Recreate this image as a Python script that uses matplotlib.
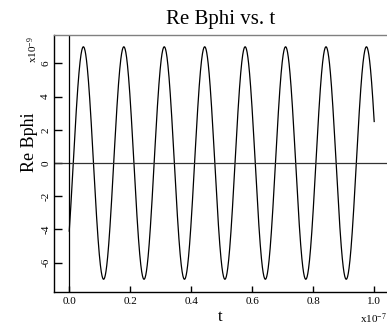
import numpy as np
import matplotlib
matplotlib.use("Agg")
import matplotlib.pyplot as plt

plt.rcParams["font.family"] = ["Liberation Serif", "DejaVu Serif"]
plt.rcParams["mathtext.default"] = "regular"

# Values (t in units of 1e-7 s, Bphi in units of 1e-9)
t_start = 0.0
t_end = 1.0
amplitude = 7.0          # peak height
value_at_start = -4.1    # curve value at t = 0
value_at_end = 2.5       # curve value at t = 1.0 (falling)
n_cycles_full = 7        # full cycles between start and end

xticks = [0.0, 0.2, 0.4, 0.6, 0.8, 1.0]
xtick_labels = ["0.0", "0.2", "0.4", "0.6", "0.8", "1.0"]
yticks = [-6, -4, -2, 0, 2, 4, 6]
ytick_labels = ["-6", "-4", "-2", "0", "2", "4", "6"]

phase0 = np.arcsin(value_at_start / amplitude)
phase1 = np.pi - np.arcsin(value_at_end / amplitude) + 2 * np.pi * n_cycles_full
t = np.linspace(t_start, t_end, 2000)
bphi = amplitude * np.sin(phase0 + (phase1 - phase0) * (t - t_start) / (t_end - t_start))

fig = plt.figure(figsize=(3.87, 3.34), dpi=100)
ax = fig.add_axes([0.1403, 0.1266, 0.8597, 0.7686])

ax.plot(t, bphi, color="black", linewidth=0.9)
ax.axhline(0, color="#333333", linewidth=0.9)
ax.axvline(0, color="black", linewidth=0.9)

ax.set_xlim(-0.049, 1.042)
ax.set_ylim(-7.75, 7.71)

ax.spines["right"].set_visible(False)
ax.spines["top"].set_color("#808080")
for s in ["left", "bottom"]:
    ax.spines[s].set_color("black")
for s in ax.spines.values():
    s.set_linewidth(1.0)

ax.set_xticks(xticks)
ax.set_xticklabels(xtick_labels)
ax.set_yticks(yticks)
ax.set_yticklabels(ytick_labels, rotation=90, va="center")
ax.tick_params(axis="x", direction="in", length=4, width=1, labelsize=8, pad=4)
ax.tick_params(axis="y", direction="in", length=6, width=1, labelsize=8, pad=3)

ax.set_title("Re Bphi vs. t", fontsize=15, pad=8)
ax.set_xlabel("t", fontsize=12, labelpad=2)

# y label sits above the axes centre in the reference
fig.text(30 / 387, 1 - 142.5 / 334, "Re Bphi", rotation=90, fontsize=13,
         ha="center", va="center")

fig.text(33 / 387, 1 - 50 / 334, "x10$^{-9}$", rotation=90, fontsize=8,
         ha="center", va="center")
fig.text(373 / 387, 1 - 319 / 334, "x10$^{-7}$", fontsize=8,
         ha="center", va="center")

fig.savefig("out.png", dpi=100)
